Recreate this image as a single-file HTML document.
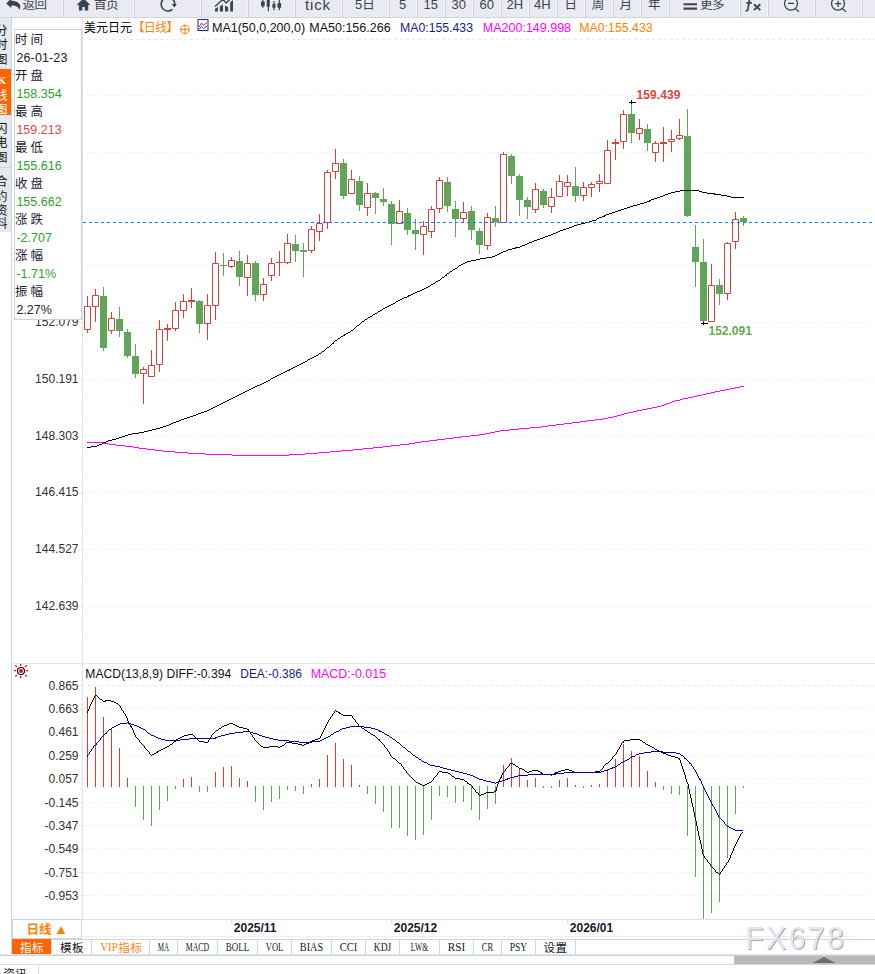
<!DOCTYPE html>
<html><head><meta charset="utf-8"><title>chart</title>
<style>
html,body{margin:0;padding:0;background:#fff}
#root{position:relative;width:875px;height:974px;overflow:hidden;background:#fff;font-family:"Liberation Sans","Noto Sans CJK SC",sans-serif}
svg{position:absolute;left:0;top:0;display:block}
text{font-family:"Liberation Sans","Noto Sans CJK SC",sans-serif}
</style></head>
<body><div id="root">
<svg width="875" height="974" viewBox="0 0 875 974">
<defs><filter id="ws" x="-5%" y="-20%" width="110%" height="140%"><feDropShadow dx="1" dy="1" stdDeviation="0.6" flood-color="#b48c64" flood-opacity="0.8"/></filter></defs>
<line x1="83" x2="875" y1="95.5" y2="95.5" stroke="#e5ecf1" stroke-dasharray="1 2"/>
<line x1="83" x2="875" y1="152.5" y2="152.5" stroke="#e5ecf1" stroke-dasharray="1 2"/>
<line x1="83" x2="875" y1="209.5" y2="209.5" stroke="#e5ecf1" stroke-dasharray="1 2"/>
<line x1="83" x2="875" y1="265.5" y2="265.5" stroke="#e5ecf1" stroke-dasharray="1 2"/>
<line x1="83" x2="875" y1="322.5" y2="322.5" stroke="#e5ecf1" stroke-dasharray="1 2"/>
<line x1="83" x2="875" y1="379.5" y2="379.5" stroke="#e5ecf1" stroke-dasharray="1 2"/>
<line x1="83" x2="875" y1="436.5" y2="436.5" stroke="#e5ecf1" stroke-dasharray="1 2"/>
<line x1="83" x2="875" y1="492.5" y2="492.5" stroke="#e5ecf1" stroke-dasharray="1 2"/>
<line x1="83" x2="875" y1="549.5" y2="549.5" stroke="#e5ecf1" stroke-dasharray="1 2"/>
<line x1="83" x2="875" y1="606.5" y2="606.5" stroke="#e5ecf1" stroke-dasharray="1 2"/>
<line x1="82" x2="875" y1="39.5" y2="39.5" stroke="#e4ecf1" stroke-dasharray="3 3"/>
<line x1="82" x2="875" y1="685.5" y2="685.5" stroke="#e4ecf1" stroke-dasharray="3 3"/>
<line x1="83" x2="875" y1="708.5" y2="708.5" stroke="#e5ecf1" stroke-dasharray="1 2"/>
<line x1="83" x2="875" y1="731.5" y2="731.5" stroke="#e5ecf1" stroke-dasharray="1 2"/>
<line x1="83" x2="875" y1="755.5" y2="755.5" stroke="#e5ecf1" stroke-dasharray="1 2"/>
<line x1="83" x2="875" y1="778.5" y2="778.5" stroke="#e5ecf1" stroke-dasharray="1 2"/>
<line x1="83" x2="875" y1="802.5" y2="802.5" stroke="#e5ecf1" stroke-dasharray="1 2"/>
<line x1="83" x2="875" y1="825.5" y2="825.5" stroke="#e5ecf1" stroke-dasharray="1 2"/>
<line x1="83" x2="875" y1="848.5" y2="848.5" stroke="#e5ecf1" stroke-dasharray="1 2"/>
<line x1="83" x2="875" y1="872.5" y2="872.5" stroke="#e5ecf1" stroke-dasharray="1 2"/>
<line x1="83" x2="875" y1="895.5" y2="895.5" stroke="#e5ecf1" stroke-dasharray="1 2"/>
<line x1="11.5" x2="11.5" y1="18" y2="955" stroke="#ccd5df"/>
<line x1="82.5" x2="82.5" y1="18" y2="919" stroke="#dde4eb"/>
<line x1="12" x2="875" y1="663.5" y2="663.5" stroke="#e3e9f0"/>
<line x1="12" x2="875" y1="919.5" y2="919.5" stroke="#dde3ea"/>
<path d="M81 49.5H82M81 60.5H82M81 72.5H82M81 83.5H82M79 95.5H82M81 106.5H82M81 117.5H82M81 129.5H82M81 140.5H82M79 151.5H82M81 163.5H82M81 174.5H82M81 186.5H82M81 197.5H82M79 208.5H82M81 220.5H82M81 231.5H82M81 242.5H82M81 254.5H82M79 265.5H82M81 277.5H82M81 288.5H82M81 299.5H82M81 311.5H82M79 322.5H82M81 333.5H82M81 345.5H82M81 356.5H82M81 367.5H82M79 379.5H82M81 390.5H82M81 402.5H82M81 413.5H82M81 424.5H82M79 436.5H82M81 447.5H82M81 458.5H82M81 470.5H82M81 481.5H82M79 493.5H82M81 504.5H82M81 515.5H82M81 527.5H82M81 538.5H82M79 549.5H82M81 561.5H82M81 572.5H82M81 584.5H82M81 595.5H82M79 606.5H82M81 618.5H82M81 629.5H82M81 640.5H82M81 652.5H82" stroke="#dde4eb" fill="none"/>
<path d="M79 685.5H82M81 690.5H82M81 695.5H82M81 699.5H82M81 704.5H82M79 709.5H82M81 713.5H82M81 718.5H82M81 723.5H82M81 727.5H82M79 732.5H82M81 737.5H82M81 741.5H82M81 746.5H82M81 751.5H82M79 755.5H82M81 760.5H82M81 765.5H82M81 769.5H82M81 774.5H82M79 779.5H82M81 783.5H82M81 788.5H82M81 793.5H82M81 797.5H82M79 802.5H82M81 807.5H82M81 811.5H82M81 816.5H82M81 821.5H82M79 825.5H82M81 830.5H82M81 835.5H82M81 839.5H82M81 844.5H82M79 849.5H82M81 853.5H82M81 858.5H82M81 863.5H82M81 867.5H82M79 872.5H82M81 877.5H82M81 881.5H82M81 886.5H82M81 891.5H82M79 895.5H82M81 900.5H82M81 905.5H82M81 909.5H82M81 914.5H82" stroke="#dde4eb" fill="none"/>
<path d="M100 296h7v52h-7zM116 319h7v12h-7zM124 332h7v24h-7zM132 356h7v18h-7zM196 301h7v23h-7zM236 261h7v16h-7zM252 263h7v32h-7zM292 244h7v7h-7zM300 250h7v2h-7zM340 163h7v33h-7zM356 181h7v24h-7zM372 193h7v5h-7zM380 199h7v3h-7zM388 204h7v20h-7zM404 213h7v17h-7zM412 230h7v4h-7zM444 182h7v24h-7zM452 209h7v10h-7zM468 211h7v19h-7zM476 231h7v14h-7zM492 218h7v4h-7zM508 156h7v20h-7zM516 176h7v24h-7zM524 200h7v7h-7zM540 191h7v14h-7zM572 186h7v10h-7zM628 114h7v19h-7zM644 129h7v14h-7zM684 136h7v80h-7zM692 247h7v15h-7zM700 262h7v59h-7zM716 285h7v9h-7zM740 218h7v4h-7z" fill="#5fa55a"/>
<path d="M103.5 287V351M119.5 307V337M127.5 329V358M135.5 344V378M199.5 300V333M220 265.5h7M223.5 253V276M239.5 251V286M255.5 261V301M295.5 235V262M303.5 243V277M343.5 159V199M359.5 176V211M375.5 192V214M383.5 188V206M391.5 201V245M407.5 208V235M415.5 219V250M447.5 177V212M455.5 201V237M471.5 206V240M479.5 228V254M495.5 206V227M511.5 154V184M519.5 174V216M527.5 197V219M543.5 189V208M575.5 167V202M631.5 103V143M647.5 124V151M687.5 109V217M695.5 225V287M703.5 239V323M719.5 279V305M743.5 216V226" stroke="#5fa55a" fill="none"/>
<path d="M84.5 306.5h6v23h-6zM92.5 295.5h6v11h-6zM108.5 318.5h6v12h-6zM140.5 369.5h6v4h-6zM148.5 365.5h6v11h-6zM156.5 329.5h6v35h-6zM172.5 310.5h6v18h-6zM180.5 301.5h6v9h-6zM204.5 305.5h6v18h-6zM212.5 263.5h6v42h-6zM228.5 260.5h6v6h-6zM244.5 263.5h6v14h-6zM260.5 284.5h6v10h-6zM268.5 263.5h6v12h-6zM284.5 243.5h6v19h-6zM308.5 229.5h6v21h-6zM316.5 223.5h6v8h-6zM324.5 172.5h6v50h-6zM332.5 163.5h6v8h-6zM348.5 179.5h6v14h-6zM364.5 193.5h6v14h-6zM396.5 211.5h6v12h-6zM420.5 226.5h6v8h-6zM428.5 209.5h6v22h-6zM436.5 180.5h6v28h-6zM460.5 212.5h6v6h-6zM484.5 217.5h6v28h-6zM500.5 154.5h6v68h-6zM532.5 189.5h6v20h-6zM548.5 197.5h6v9h-6zM556.5 181.5h6v15h-6zM564.5 182.5h6v4h-6zM580.5 187.5h6v8h-6zM588.5 184.5h6v3h-6zM596.5 181.5h6v2h-6zM604.5 150.5h6v33h-6zM620.5 114.5h6v27h-6zM636.5 128.5h6v5h-6zM652.5 143.5h6v9h-6zM668.5 139.5h6v2h-6zM676.5 135.5h6v3h-6zM708.5 285.5h6v36h-6zM724.5 243.5h6v50h-6zM732.5 219.5h6v22h-6z" fill="#fff" stroke="#d6403b"/>
<path d="M87.5 296V306M87.5 330V333M95.5 289V295M95.5 307V322M111.5 312V318M111.5 331V334M143.5 367V369M143.5 374V404M151.5 350V365M159.5 320V329M159.5 365V372M167.5 324V328M167.5 330V341M175.5 302V310M175.5 329V331M183.5 294V301M183.5 311V318M191.5 288V300M191.5 302V308M207.5 294V305M207.5 324V340M215.5 252V263M215.5 306V320M231.5 257V260M231.5 267V268M247.5 255V263M247.5 278V296M263.5 278V284M263.5 295V301M271.5 258V263M271.5 276V281M279.5 251V262M279.5 263V276M287.5 234V243M287.5 263V264M311.5 226V229M311.5 251V253M319.5 214V223M319.5 232V241M327.5 170V172M327.5 223V229M335.5 149V163M335.5 172V179M351.5 170V179M367.5 183V193M367.5 208V216M399.5 200V211M423.5 221V226M423.5 235V255M431.5 206V209M431.5 232V238M439.5 177V180M439.5 209V213M463.5 202V212M463.5 219V222M487.5 213V217M487.5 246V250M503.5 152V154M535.5 183V189M535.5 210V213M551.5 188V197M551.5 207V213M559.5 175V181M567.5 175V182M567.5 187V196M583.5 182V187M583.5 196V201M591.5 182V184M591.5 188V197M599.5 174V181M599.5 184V192M607.5 140V150M615.5 139V142M615.5 144V160M623.5 110V114M623.5 142V149M639.5 119V128M639.5 134V140M655.5 141V143M655.5 153V162M663.5 127V142M663.5 144V162M671.5 130V139M671.5 142V152M679.5 119V135M679.5 139V140M711.5 264V285M727.5 242V243M727.5 294V300M735.5 212V219M735.5 242V249" stroke="#d6403b" fill="none"/>
<path d="M164 328h7v2h-7zM188 300h7v2h-7zM276 262h7v1h-7zM612 142h7v2h-7zM660 142h7v2h-7z" fill="#d6403b"/>
<path d="M680 190.5h19M675 191.5h5M699 191.5h3M671 192.5h4M702 192.5h5M668 193.5h3M707 193.5h8M665 194.5h3M714 194.5h7M663 195.5h2M721 195.5h6M660 196.5h3M727 196.5h4M657 197.5h3M731 197.5h13M654 198.5h3M651 199.5h3M649 200.5h2M647 201.5h3M644 202.5h3M640 203.5h4M637 204.5h3M633 205.5h4M630 206.5h3M627 207.5h3M624 208.5h3M621 209.5h3M618 210.5h3M615 211.5h3M612 212.5h3M609 213.5h3M606 214.5h3M604 215.5h2M602 216.5h3M599 217.5h3M597 218.5h2M596 219.5h1M592 220.5h4M589 221.5h3M585 222.5h4M581 223.5h4M577 224.5h4M574 225.5h3M572 226.5h2M569 227.5h3M566 228.5h3M563 229.5h3M560 230.5h3M558 231.5h2M556 232.5h2M553 233.5h3M551 234.5h2M548 235.5h3M545 236.5h3M543 237.5h2M540 238.5h3M537 239.5h3M534 240.5h3M532 241.5h2M529 242.5h3M527 243.5h2M525 244.5h2M522 245.5h3M520 246.5h2M515 247.5h5M512 248.5h4M508 249.5h4M506 250.5h2M503 251.5h3M501 252.5h2M499 253.5h2M497 254.5h2M495 255.5h2M492 256.5h3M486 257.5h6M480 258.5h6M476 259.5h4M471 260.5h5M467 261.5h4M465 262.5h2M463 263.5h2M461 264.5h2M459 265.5h2M458 266.5h1M457 267.5h1M455 268.5h2M453 269.5h2M452 270.5h1M450 271.5h2M449 272.5h1M447 273.5h2M446 274.5h1M445 275.5h2M444 276.5h1M442 277.5h2M441 278.5h1M440 279.5h1M438 280.5h2M436 281.5h2M435 282.5h1M433 283.5h2M431 284.5h2M430 285.5h1M428 286.5h2M426 287.5h2M424 288.5h2M422 289.5h2M420 290.5h2M417 291.5h3M415 292.5h2M413 293.5h2M411 294.5h2M408 295.5h3M407 296.5h2M404 297.5h3M402 298.5h2M400 299.5h2M398 300.5h2M396 301.5h2M395 302.5h1M393 303.5h2M391 304.5h2M389 305.5h2M387 306.5h2M385 307.5h2M383 308.5h2M382 309.5h1M380 310.5h2M378 311.5h2M377 312.5h1M375 313.5h2M373 314.5h2M372 315.5h1M370 316.5h2M368 317.5h2M367 318.5h1M365 319.5h2M364 320.5h1M362 321.5h2M361 322.5h1M360 323.5h1M359 324.5h1M357 325.5h2M356 326.5h1M355 327.5h1M354 328.5h1M353 329.5h1M351 330.5h2M350 331.5h1M348 332.5h2M346 333.5h2M344 334.5h2M343 335.5h2M341 336.5h2M340 337.5h1M338 338.5h2M337 339.5h1M335 340.5h2M334 341.5h1M333 342.5h1M332 343.5h2M331 344.5h1M330 345.5h1M329 346.5h1M327 347.5h2M326 348.5h1M325 349.5h1M324 350.5h1M322 351.5h2M321 352.5h1M319 353.5h2M318 354.5h1M316 355.5h2M314 356.5h2M312 357.5h2M310 358.5h2M308 359.5h2M307 360.5h1M305 361.5h2M303 362.5h2M301 363.5h2M299 364.5h2M297 365.5h2M295 366.5h2M293 367.5h2M291 368.5h2M289 369.5h2M287 370.5h3M285 371.5h2M283 372.5h2M281 373.5h2M279 374.5h2M277 375.5h2M275 376.5h2M273 377.5h2M271 378.5h2M270 379.5h1M268 380.5h2M266 381.5h2M264 382.5h2M262 383.5h2M260 384.5h2M257 385.5h3M255 386.5h2M253 387.5h2M251 388.5h2M249 389.5h2M247 390.5h2M245 391.5h2M243 392.5h2M241 393.5h2M239 394.5h2M237 395.5h2M235 396.5h2M233 397.5h2M231 398.5h2M229 399.5h2M227 400.5h2M225 401.5h2M223 402.5h2M221 403.5h2M219 404.5h2M217 405.5h2M215 406.5h2M213 407.5h2M211 408.5h2M209 409.5h2M207 410.5h2M204 411.5h3M201 412.5h3M198 413.5h3M196 414.5h2M193 415.5h3M190 416.5h3M187 417.5h3M184 418.5h3M181 419.5h3M179 420.5h2M176 421.5h3M173 422.5h3M171 423.5h2M169 424.5h2M166 425.5h3M163 426.5h3M160 427.5h3M156 428.5h4M152 429.5h4M148 430.5h4M144 431.5h4M139 432.5h5M132 433.5h7M128 434.5h4M125 435.5h3M122 436.5h3M119 437.5h3M116 438.5h3M112 439.5h4M108 440.5h4M106 441.5h2M103 442.5h3M102 443.5h1M99 444.5h3M97 445.5h2M91 446.5h6M87 447.5h4" stroke="#000" fill="none" shape-rendering="crispEdges"/>
<path d="M740 386.5h4M735 387.5h5M730 388.5h5M725 389.5h5M720 390.5h5M715 391.5h5M711 392.5h4M706 393.5h5M702 394.5h4M697 395.5h5M693 396.5h4M688 397.5h5M683 398.5h5M680 399.5h3M675 400.5h5M672 401.5h3M670 402.5h2M667 403.5h3M664 404.5h3M661 405.5h3M657 406.5h4M652 407.5h5M647 408.5h5M642 409.5h5M637 410.5h5M633 411.5h4M628 412.5h5M624 413.5h4M621 414.5h3M617 415.5h4M613 416.5h4M608 417.5h5M603 418.5h5M595 419.5h8M587 420.5h8M580 421.5h7M572 422.5h8M564 423.5h8M556 424.5h8M548 425.5h8M541 426.5h7M530 427.5h11M519 428.5h11M509 429.5h10M500 430.5h9M495 431.5h5M490 432.5h5M485 433.5h5M479 434.5h6M470 435.5h9M461 436.5h9M453 437.5h8M445 438.5h8M437 439.5h8M429 440.5h8M421 441.5h8M87 442.5h16M415 442.5h6M103 443.5h6M409 443.5h6M109 444.5h7M400 444.5h9M116 445.5h9M391 445.5h9M125 446.5h8M383 446.5h8M133 447.5h6M373 447.5h10M139 448.5h8M363 448.5h10M147 449.5h8M353 449.5h10M155 450.5h8M341 450.5h12M163 451.5h12M330 451.5h11M175 452.5h13M318 452.5h12M188 453.5h17M305 453.5h13M205 454.5h27M289 454.5h16M232 455.5h57" stroke="#ff00ff" fill="none" shape-rendering="crispEdges"/>
<line x1="83" x2="875" y1="222.5" y2="222.5" stroke="#0a7eff" stroke-dasharray="3 3"/>
<path d="M629 102.5h7M631.5 100v4M701 323.5h7M703.5 321.5v3.5" stroke="#000" fill="none"/>
<path d="M87.5 697V787M95.5 687V787M103.5 717V787M111.5 728V787M119.5 748V787M127.5 778V787M183.5 779V787M191.5 777V787M215.5 772V787M223.5 767V787M231.5 766V787M239.5 778V787M247.5 781V787M311.5 784V787M319.5 779V787M327.5 755V787M335.5 743V787M343.5 759V787M351.5 765V787M359.5 785V787M503.5 765V787M511.5 758V787M519.5 769V787M527.5 780V787M535.5 778V787M559.5 780V787M567.5 778V787M575.5 785V787M591.5 785V787M599.5 784V787M607.5 769V787M615.5 759V787M623.5 744V787M631.5 751V787M639.5 756V787M647.5 771V787M655.5 782V787" stroke="#d6403b" fill="none"/>
<path d="M135.5 786V807M143.5 786V820M151.5 786V826M159.5 786V810M167.5 786V801M175.5 786V789M199.5 786V792M207.5 786V792M255.5 786V802M263.5 786V810M271.5 786V802M279.5 786V799M287.5 786V790M295.5 786V791M303.5 786V794M367.5 786V794M375.5 786V804M383.5 786V812M391.5 786V828M399.5 786V828M407.5 786V836M415.5 786V840M423.5 786V835M431.5 786V820M439.5 786V796M447.5 786V797M455.5 786V803M463.5 786V802M471.5 786V810M479.5 786V820M487.5 786V809M495.5 786V804M543.5 786V788M551.5 786V788M583.5 786V788M663.5 786V790M671.5 786V794M679.5 786V795M687.5 786V836M695.5 786V877M703.5 786V919M711.5 786V913M719.5 786V902M727.5 786V858M735.5 786V814M743.5 786V788" stroke="#5fa55a" fill="none"/>
<path d="M95 695.5h2M94 696.5h1M97 696.5h1M94 697.5h1M98 697.5h1M93 698.5h1M99 698.5h1M93 699.5h1M100 699.5h2M92 700.5h1M102 700.5h1M105 700.5h6M92 701.5h1M103 701.5h3M111 701.5h3M91 702.5h1M114 702.5h2M91 703.5h1M116 703.5h2M90 704.5h1M118 704.5h1M90 705.5h1M119 705.5h1M89 706.5h1M120 706.5h1M89 707.5h1M120 707.5h1M89 708.5h1M121 708.5h1M88 709.5h1M121 709.5h1M88 710.5h1M122 710.5h1M335 710.5h1M87 711.5h1M123 711.5h1M334 711.5h1M336 711.5h2M87 712.5h1M123 712.5h1M334 712.5h1M338 712.5h2M124 713.5h1M333 713.5h1M339 713.5h2M125 714.5h1M332 714.5h1M341 714.5h2M125 715.5h1M332 715.5h1M343 715.5h9M126 716.5h1M331 716.5h1M352 716.5h1M126 717.5h1M330 717.5h1M352 717.5h1M127 718.5h1M330 718.5h1M353 718.5h1M127 719.5h1M329 719.5h1M354 719.5h1M127 720.5h1M328 720.5h1M355 720.5h1M128 721.5h1M328 721.5h1M355 721.5h1M128 722.5h1M327 722.5h1M356 722.5h1M129 723.5h1M229 723.5h4M327 723.5h1M357 723.5h1M129 724.5h1M227 724.5h2M233 724.5h2M326 724.5h1M358 724.5h1M130 725.5h1M224 725.5h3M235 725.5h2M326 725.5h1M358 725.5h1M130 726.5h2M222 726.5h2M237 726.5h2M325 726.5h1M359 726.5h2M131 727.5h1M221 727.5h1M239 727.5h4M325 727.5h1M361 727.5h1M132 728.5h1M219 728.5h2M243 728.5h4M324 728.5h1M362 728.5h2M132 729.5h1M218 729.5h1M247 729.5h2M324 729.5h1M364 729.5h1M133 730.5h1M216 730.5h2M248 730.5h1M323 730.5h1M365 730.5h2M133 731.5h1M215 731.5h1M249 731.5h1M323 731.5h1M367 731.5h1M133 732.5h1M214 732.5h1M250 732.5h1M322 732.5h1M368 732.5h2M134 733.5h1M213 733.5h1M250 733.5h1M322 733.5h1M370 733.5h1M134 734.5h1M188 734.5h5M212 734.5h1M251 734.5h1M321 734.5h1M371 734.5h2M135 735.5h1M184 735.5h4M193 735.5h1M211 735.5h1M252 735.5h1M321 735.5h1M373 735.5h2M135 736.5h1M182 736.5h2M194 736.5h1M211 736.5h1M252 736.5h1M320 736.5h1M375 736.5h1M136 737.5h1M180 737.5h2M195 737.5h1M210 737.5h1M253 737.5h1M320 737.5h1M376 737.5h1M137 738.5h1M178 738.5h2M195 738.5h2M209 738.5h1M254 738.5h1M318 738.5h2M377 738.5h1M138 739.5h1M176 739.5h2M197 739.5h1M209 739.5h1M254 739.5h1M315 739.5h3M378 739.5h2M630 739.5h10M139 740.5h1M176 740.5h1M198 740.5h1M208 740.5h1M255 740.5h1M312 740.5h3M379 740.5h1M624 740.5h6M640 740.5h2M139 741.5h1M174 741.5h2M199 741.5h5M208 741.5h1M256 741.5h1M310 741.5h2M380 741.5h1M623 741.5h1M642 741.5h1M140 742.5h1M173 742.5h1M204 742.5h4M257 742.5h1M286 742.5h6M308 742.5h2M381 742.5h1M622 742.5h2M643 742.5h2M141 743.5h1M172 743.5h1M258 743.5h1M285 743.5h1M292 743.5h6M306 743.5h3M382 743.5h1M621 743.5h1M645 743.5h1M142 744.5h1M170 744.5h2M259 744.5h1M284 744.5h1M298 744.5h4M304 744.5h2M383 744.5h1M621 744.5h1M646 744.5h2M143 745.5h1M169 745.5h1M260 745.5h1M282 745.5h2M302 745.5h2M384 745.5h1M620 745.5h1M648 745.5h2M144 746.5h1M167 746.5h2M261 746.5h2M269 746.5h9M280 746.5h2M384 746.5h1M620 746.5h1M650 746.5h2M144 747.5h1M165 747.5h2M263 747.5h6M278 747.5h2M385 747.5h1M619 747.5h1M652 747.5h2M145 748.5h1M163 748.5h2M386 748.5h1M619 748.5h1M654 748.5h1M146 749.5h1M161 749.5h2M387 749.5h1M618 749.5h1M655 749.5h2M147 750.5h1M159 750.5h2M387 750.5h1M617 750.5h1M657 750.5h2M148 751.5h1M157 751.5h2M388 751.5h1M617 751.5h1M659 751.5h2M149 752.5h1M156 752.5h2M389 752.5h1M616 752.5h1M661 752.5h2M149 753.5h1M154 753.5h2M389 753.5h1M616 753.5h1M663 753.5h3M150 754.5h1M152 754.5h2M390 754.5h1M615 754.5h1M666 754.5h2M151 755.5h1M390 755.5h1M614 755.5h1M668 755.5h3M391 756.5h1M613 756.5h1M671 756.5h4M392 757.5h1M612 757.5h1M675 757.5h3M393 758.5h2M612 758.5h1M678 758.5h2M395 759.5h1M611 759.5h1M679 759.5h1M396 760.5h1M610 760.5h1M680 760.5h1M397 761.5h1M609 761.5h1M680 761.5h1M398 762.5h1M608 762.5h1M680 762.5h1M399 763.5h2M510 763.5h3M606 763.5h2M681 763.5h1M401 764.5h1M509 764.5h1M513 764.5h2M605 764.5h1M681 764.5h1M401 765.5h1M509 765.5h1M515 765.5h1M604 765.5h1M681 765.5h1M402 766.5h1M508 766.5h1M516 766.5h2M603 766.5h1M682 766.5h1M403 767.5h1M507 767.5h1M518 767.5h1M603 767.5h1M682 767.5h1M403 768.5h1M506 768.5h1M519 768.5h3M602 768.5h1M682 768.5h1M404 769.5h1M505 769.5h1M522 769.5h2M565 769.5h4M601 769.5h1M683 769.5h1M405 770.5h1M505 770.5h1M524 770.5h1M532 770.5h6M561 770.5h4M569 770.5h3M600 770.5h1M683 770.5h1M406 771.5h1M439 771.5h3M504 771.5h1M525 771.5h2M529 771.5h3M538 771.5h2M558 771.5h3M572 771.5h2M595 771.5h5M683 771.5h1M406 772.5h1M438 772.5h1M442 772.5h6M503 772.5h1M527 772.5h2M540 772.5h2M555 772.5h3M574 772.5h21M684 772.5h1M407 773.5h1M437 773.5h1M448 773.5h2M502 773.5h1M541 773.5h2M554 773.5h2M684 773.5h1M408 774.5h1M437 774.5h1M450 774.5h1M502 774.5h1M543 774.5h8M552 774.5h2M684 774.5h1M409 775.5h1M436 775.5h1M451 775.5h1M501 775.5h1M551 775.5h1M685 775.5h1M410 776.5h1M435 776.5h1M452 776.5h2M501 776.5h1M685 776.5h1M411 777.5h1M434 777.5h1M454 777.5h1M500 777.5h2M685 777.5h1M412 778.5h1M433 778.5h1M455 778.5h5M500 778.5h1M685 778.5h1M413 779.5h1M433 779.5h1M460 779.5h4M499 779.5h1M686 779.5h1M414 780.5h1M432 780.5h1M464 780.5h1M499 780.5h1M686 780.5h1M415 781.5h1M431 781.5h1M465 781.5h2M498 781.5h1M686 781.5h1M416 782.5h2M429 782.5h2M467 782.5h1M498 782.5h1M687 782.5h1M418 783.5h2M427 783.5h2M467 783.5h2M498 783.5h1M687 783.5h1M420 784.5h2M425 784.5h2M469 784.5h2M497 784.5h1M688 784.5h1M422 785.5h3M471 785.5h1M497 785.5h1M688 785.5h1M472 786.5h1M497 786.5h1M688 786.5h1M472 787.5h1M496 787.5h1M688 787.5h1M473 788.5h1M496 788.5h1M688 788.5h1M474 789.5h1M496 789.5h1M689 789.5h1M475 790.5h1M495 790.5h2M689 790.5h1M475 791.5h1M494 791.5h2M689 791.5h1M476 792.5h2M486 792.5h8M689 792.5h1M478 793.5h1M484 793.5h2M689 793.5h1M478 794.5h1M481 794.5h3M690 794.5h1M479 795.5h2M690 795.5h1M690 796.5h1M690 797.5h1M691 798.5h1M691 799.5h1M691 800.5h1M691 801.5h1M691 802.5h1M692 803.5h1M692 804.5h1M692 805.5h1M692 806.5h1M693 807.5h1M693 808.5h1M693 809.5h1M693 810.5h1M693 811.5h1M694 812.5h1M694 813.5h1M694 814.5h1M694 815.5h1M694 816.5h1M695 817.5h1M695 818.5h1M695 819.5h1M695 820.5h1M696 821.5h1M696 822.5h1M696 823.5h1M696 824.5h1M696 825.5h1M697 826.5h1M697 827.5h1M697 828.5h1M697 829.5h1M697 830.5h1M698 831.5h1M698 832.5h1M742 832.5h1M698 833.5h1M741 833.5h1M698 834.5h1M740 834.5h1M698 835.5h1M740 835.5h1M699 836.5h1M739 836.5h1M699 837.5h1M739 837.5h1M699 838.5h1M738 838.5h1M699 839.5h1M738 839.5h1M700 840.5h1M737 840.5h1M700 841.5h1M737 841.5h1M700 842.5h1M736 842.5h1M700 843.5h1M736 843.5h1M701 844.5h1M735 844.5h1M701 845.5h1M735 845.5h1M701 846.5h1M734 846.5h1M701 847.5h1M734 847.5h1M701 848.5h1M733 848.5h1M702 849.5h1M733 849.5h1M702 850.5h1M733 850.5h1M702 851.5h1M732 851.5h1M702 852.5h1M732 852.5h1M702 853.5h1M731 853.5h1M703 854.5h1M731 854.5h1M703 855.5h1M730 855.5h1M704 856.5h1M730 856.5h1M704 857.5h1M730 857.5h1M705 858.5h1M729 858.5h1M706 859.5h1M729 859.5h1M707 860.5h1M728 860.5h1M707 861.5h1M728 861.5h1M708 862.5h1M727 862.5h1M709 863.5h1M726 863.5h1M710 864.5h1M726 864.5h1M710 865.5h1M725 865.5h1M711 866.5h1M724 866.5h1M712 867.5h1M724 867.5h1M713 868.5h1M723 868.5h1M714 869.5h1M722 869.5h1M715 870.5h1M722 870.5h1M715 871.5h1M721 871.5h1M716 872.5h2M720 872.5h1M718 873.5h1M720 873.5h1M719 874.5h1" stroke="#000" fill="none" shape-rendering="crispEdges"/>
<path d="M127 722.5h1M120 723.5h7M128 723.5h3M118 724.5h2M131 724.5h3M116 725.5h2M134 725.5h3M114 726.5h2M137 726.5h2M350 726.5h14M112 727.5h2M139 727.5h2M346 727.5h4M364 727.5h7M111 728.5h1M141 728.5h2M342 728.5h4M371 728.5h4M109 729.5h2M143 729.5h2M340 729.5h2M375 729.5h3M108 730.5h1M145 730.5h1M339 730.5h1M378 730.5h2M107 731.5h1M146 731.5h1M243 731.5h7M336 731.5h3M379 731.5h3M106 732.5h1M147 732.5h1M235 732.5h8M250 732.5h3M334 732.5h2M382 732.5h2M105 733.5h2M148 733.5h2M229 733.5h6M253 733.5h4M333 733.5h1M384 733.5h1M104 734.5h1M150 734.5h1M225 734.5h4M257 734.5h2M331 734.5h2M385 734.5h2M103 735.5h1M151 735.5h3M221 735.5h4M259 735.5h3M330 735.5h1M387 735.5h2M102 736.5h1M154 736.5h2M218 736.5h3M262 736.5h3M328 736.5h2M389 736.5h1M101 737.5h1M156 737.5h2M215 737.5h3M265 737.5h4M326 737.5h2M390 737.5h2M100 738.5h1M158 738.5h3M189 738.5h27M269 738.5h4M324 738.5h2M392 738.5h1M100 739.5h1M161 739.5h4M180 739.5h9M273 739.5h5M322 739.5h2M393 739.5h2M99 740.5h1M165 740.5h15M278 740.5h11M320 740.5h2M395 740.5h1M98 741.5h1M289 741.5h10M312 741.5h8M396 741.5h1M97 742.5h1M299 742.5h13M397 742.5h2M96 743.5h1M399 743.5h1M96 744.5h1M400 744.5h1M94 745.5h2M401 745.5h1M93 746.5h1M402 746.5h1M93 747.5h1M403 747.5h2M92 748.5h1M405 748.5h1M91 749.5h1M406 749.5h1M91 750.5h1M407 750.5h1M90 751.5h1M408 751.5h2M651 751.5h12M89 752.5h1M410 752.5h1M644 752.5h7M663 752.5h13M89 753.5h1M411 753.5h1M639 753.5h5M676 753.5h4M88 754.5h1M412 754.5h1M636 754.5h3M680 754.5h1M87 755.5h1M413 755.5h2M635 755.5h1M681 755.5h2M87 756.5h1M415 756.5h1M632 756.5h3M683 756.5h1M416 757.5h2M630 757.5h2M684 757.5h1M418 758.5h1M629 758.5h1M684 758.5h2M419 759.5h2M627 759.5h2M686 759.5h1M421 760.5h1M625 760.5h2M687 760.5h1M422 761.5h2M623 761.5h2M688 761.5h1M424 762.5h3M621 762.5h2M689 762.5h1M427 763.5h1M620 763.5h1M689 763.5h2M428 764.5h2M618 764.5h2M691 764.5h1M430 765.5h5M617 765.5h1M691 765.5h1M435 766.5h5M615 766.5h2M692 766.5h1M440 767.5h3M612 767.5h3M693 767.5h1M443 768.5h4M610 768.5h3M693 768.5h1M447 769.5h4M608 769.5h2M694 769.5h1M451 770.5h4M604 770.5h4M695 770.5h1M455 771.5h4M601 771.5h3M695 771.5h1M459 772.5h4M564 772.5h37M696 772.5h1M463 773.5h4M555 773.5h9M696 773.5h1M467 774.5h3M528 774.5h28M697 774.5h1M470 775.5h3M518 775.5h10M697 775.5h1M473 776.5h2M514 776.5h4M698 776.5h1M475 777.5h2M510 777.5h4M698 777.5h1M477 778.5h2M507 778.5h3M699 778.5h1M479 779.5h4M505 779.5h3M699 779.5h2M483 780.5h3M502 780.5h3M700 780.5h1M486 781.5h5M499 781.5h3M701 781.5h1M491 782.5h4M496 782.5h3M701 782.5h1M495 783.5h1M701 783.5h1M702 784.5h1M702 785.5h1M703 786.5h1M703 787.5h1M704 788.5h1M704 789.5h1M705 790.5h1M705 791.5h1M706 792.5h1M706 793.5h1M707 794.5h1M707 795.5h1M708 796.5h1M708 797.5h1M709 798.5h1M709 799.5h1M710 800.5h1M710 801.5h1M711 802.5h1M711 803.5h1M712 804.5h1M712 805.5h1M713 806.5h1M714 807.5h1M714 808.5h1M715 809.5h1M715 810.5h1M716 811.5h1M716 812.5h1M717 813.5h1M717 814.5h1M718 815.5h1M718 816.5h1M719 817.5h1M720 818.5h1M721 819.5h1M722 820.5h1M723 821.5h1M724 822.5h1M724 823.5h1M725 824.5h1M726 825.5h1M727 826.5h2M729 827.5h2M731 828.5h2M733 829.5h2M735 830.5h8" stroke="#0000a0" fill="none" shape-rendering="crispEdges"/>
<text x="78.5" y="326.1" font-size="12" fill="#333" text-anchor="end" font-weight="normal"  textLength="43.39" lengthAdjust="spacingAndGlyphs">152.079</text>
<text x="78.5" y="383.1" font-size="12" fill="#333" text-anchor="end" font-weight="normal"  textLength="43.39" lengthAdjust="spacingAndGlyphs">150.191</text>
<text x="78.5" y="440.1" font-size="12" fill="#333" text-anchor="end" font-weight="normal"  textLength="43.39" lengthAdjust="spacingAndGlyphs">148.303</text>
<text x="78.5" y="496.1" font-size="12" fill="#333" text-anchor="end" font-weight="normal"  textLength="43.39" lengthAdjust="spacingAndGlyphs">146.415</text>
<text x="78.5" y="553.1" font-size="12" fill="#333" text-anchor="end" font-weight="normal"  textLength="43.39" lengthAdjust="spacingAndGlyphs">144.527</text>
<text x="78.5" y="610.1" font-size="12" fill="#333" text-anchor="end" font-weight="normal"  textLength="43.39" lengthAdjust="spacingAndGlyphs">142.639</text>
<text x="78.5" y="689.7" font-size="12" fill="#333" text-anchor="end" font-weight="normal"  textLength="30.03" lengthAdjust="spacingAndGlyphs">0.865</text>
<text x="78.5" y="712.7" font-size="12" fill="#333" text-anchor="end" font-weight="normal"  textLength="30.03" lengthAdjust="spacingAndGlyphs">0.663</text>
<text x="78.5" y="735.7" font-size="12" fill="#333" text-anchor="end" font-weight="normal"  textLength="30.03" lengthAdjust="spacingAndGlyphs">0.461</text>
<text x="78.5" y="759.7" font-size="12" fill="#333" text-anchor="end" font-weight="normal"  textLength="30.03" lengthAdjust="spacingAndGlyphs">0.259</text>
<text x="78.5" y="782.7" font-size="12" fill="#333" text-anchor="end" font-weight="normal"  textLength="30.03" lengthAdjust="spacingAndGlyphs">0.057</text>
<text x="78.5" y="806.7" font-size="12" fill="#333" text-anchor="end" font-weight="normal"  textLength="34.03" lengthAdjust="spacingAndGlyphs">-0.145</text>
<text x="78.5" y="829.7" font-size="12" fill="#333" text-anchor="end" font-weight="normal"  textLength="34.03" lengthAdjust="spacingAndGlyphs">-0.347</text>
<text x="78.5" y="852.7" font-size="12" fill="#333" text-anchor="end" font-weight="normal"  textLength="34.03" lengthAdjust="spacingAndGlyphs">-0.549</text>
<text x="78.5" y="876.7" font-size="12" fill="#333" text-anchor="end" font-weight="normal"  textLength="34.03" lengthAdjust="spacingAndGlyphs">-0.751</text>
<text x="78.5" y="899.7" font-size="12" fill="#333" text-anchor="end" font-weight="normal"  textLength="34.03" lengthAdjust="spacingAndGlyphs">-0.953</text>
<text x="636.5" y="99.3" font-size="12" fill="#de473a" text-anchor="start" font-weight="bold" textLength="43.86" lengthAdjust="spacing">159.439</text>
<text x="708.5" y="335.3" font-size="12" fill="#6aa84f" text-anchor="start" font-weight="bold"  textLength="43.39" lengthAdjust="spacingAndGlyphs">152.091</text>
<line x1="231.5" x2="231.5" y1="920" y2="924" stroke="#dde4eb"/>
<text x="233.8" y="932" font-size="12" fill="#151a30" text-anchor="start" font-weight="bold"  textLength="42.72" lengthAdjust="spacingAndGlyphs">2025/11</text>
<line x1="391.5" x2="391.5" y1="920" y2="924" stroke="#dde4eb"/>
<text x="393.8" y="932" font-size="12" fill="#151a30" text-anchor="start" font-weight="bold"  textLength="43.39" lengthAdjust="spacingAndGlyphs">2025/12</text>
<line x1="567.5" x2="567.5" y1="920" y2="924" stroke="#dde4eb"/>
<text x="569.8" y="932" font-size="12" fill="#151a30" text-anchor="start" font-weight="bold"  textLength="43.39" lengthAdjust="spacingAndGlyphs">2026/01</text>
<text x="84" y="32" font-size="12" fill="#000" text-anchor="start">美元日元</text>
<text x="132.5" y="32" font-size="12" fill="#ff7f00" text-anchor="start" textLength="46" lengthAdjust="spacing">【日线】</text>
<g stroke="#ff7f00" fill="none"><circle cx="184.9" cy="29.4" r="4.3"/><path d="M180.6 29.4h8.6M184.9 25.1v8.6"/></g>
<g><rect x="198" y="19.5" width="10" height="11" fill="#fff" stroke="#2020a0"/><path d="M199 27l2.5-4 2 2.5 3.5-3" stroke="#e02020" fill="none"/><path d="M199 29.5l2.5-3 2 2 3.5-2.5" stroke="#2040d0" fill="none"/></g>
<text x="212" y="31.6" font-size="12.5" fill="#111" text-anchor="start" font-weight="normal"  textLength="93.11" lengthAdjust="spacingAndGlyphs">MA1(50,0,200,0)</text>
<text x="309.3" y="31.6" font-size="12.5" fill="#111" text-anchor="start" font-weight="normal"  textLength="81.31" lengthAdjust="spacingAndGlyphs">MA50:156.266</text>
<text x="400" y="31.6" font-size="12.5" fill="#1a1a8c" text-anchor="start" font-weight="normal" textLength="73" lengthAdjust="spacingAndGlyphs">MA0:155.433</text>
<text x="482.8" y="31.6" font-size="12.5" fill="#ff00ff" text-anchor="start" font-weight="normal"  textLength="88.27" lengthAdjust="spacingAndGlyphs">MA200:149.998</text>
<text x="579.3" y="31.6" font-size="12.5" fill="#ff7f00" text-anchor="start" font-weight="normal" textLength="73.4" lengthAdjust="spacingAndGlyphs">MA0:155.433</text>
<text x="85.3" y="678.2" font-size="12.5" fill="#111" text-anchor="start" font-weight="normal" textLength="146" lengthAdjust="spacingAndGlyphs">MACD(13,8,9) DIFF:-0.394</text>
<text x="240.3" y="678.2" font-size="12.5" fill="#1a1a8c" text-anchor="start" font-weight="normal" textLength="61.6" lengthAdjust="spacingAndGlyphs">DEA:-0.386</text>
<text x="310.7" y="678.2" font-size="12.5" fill="#ff00ff" text-anchor="start" font-weight="normal" textLength="75.4" lengthAdjust="spacingAndGlyphs">MACD:-0.015</text>
<circle cx="21" cy="671" r="3.5" stroke="#000" fill="#fff" stroke-width="1.1"/><circle cx="21" cy="671" r="2" fill="#f00"/><path d="M20.6 664v2M20.6 676v2M14 670.6h2.1M26 670.6h2.1M15.2 665.3l1.7 1.7M26.8 665.3l-1.7 1.7M15.2 676.7l1.7-1.7M26.8 676.7l-1.7-1.7" stroke="#f00" stroke-width="1.2" fill="none"/>
<rect x="14.5" y="29.5" width="67" height="290" fill="#fff" stroke="#c9d3e0"/>
<text x="15" y="43.5" font-size="12.5" fill="#1c2233" text-anchor="start" textLength="28" lengthAdjust="spacing">时 间</text>
<text x="16.4" y="62" font-size="12.5" fill="#222" text-anchor="start" font-weight="normal" textLength="51" lengthAdjust="spacing">26-01-23</text>
<text x="15" y="79.5" font-size="12.5" fill="#1c2233" text-anchor="start" textLength="28" lengthAdjust="spacing">开 盘</text>
<text x="16.4" y="98" font-size="12.5" fill="#2aa52a" text-anchor="start" font-weight="normal"  textLength="45.19" lengthAdjust="spacingAndGlyphs">158.354</text>
<text x="15" y="115.5" font-size="12.5" fill="#1c2233" text-anchor="start" textLength="28" lengthAdjust="spacing">最 高</text>
<text x="16.4" y="134" font-size="12.5" fill="#e0434f" text-anchor="start" font-weight="normal"  textLength="45.19" lengthAdjust="spacingAndGlyphs">159.213</text>
<text x="15" y="151.5" font-size="12.5" fill="#1c2233" text-anchor="start" textLength="28" lengthAdjust="spacing">最 低</text>
<text x="16.4" y="170" font-size="12.5" fill="#2aa52a" text-anchor="start" font-weight="normal"  textLength="45.19" lengthAdjust="spacingAndGlyphs">155.616</text>
<text x="15" y="187.5" font-size="12.5" fill="#1c2233" text-anchor="start" textLength="28" lengthAdjust="spacing">收 盘</text>
<text x="16.4" y="206" font-size="12.5" fill="#2aa52a" text-anchor="start" font-weight="normal"  textLength="45.19" lengthAdjust="spacingAndGlyphs">155.662</text>
<text x="15" y="223.5" font-size="12.5" fill="#1c2233" text-anchor="start" textLength="28" lengthAdjust="spacing">涨 跌</text>
<text x="16.4" y="242" font-size="12.5" fill="#2aa52a" text-anchor="start" font-weight="normal"  textLength="35.45" lengthAdjust="spacingAndGlyphs">-2.707</text>
<text x="15" y="259.5" font-size="12.5" fill="#1c2233" text-anchor="start" textLength="28" lengthAdjust="spacing">涨 幅</text>
<text x="16.4" y="278" font-size="12.5" fill="#2aa52a" text-anchor="start" font-weight="normal"  textLength="39.61" lengthAdjust="spacingAndGlyphs">-1.71%</text>
<text x="15" y="295.5" font-size="12.5" fill="#1c2233" text-anchor="start" textLength="28" lengthAdjust="spacing">振 幅</text>
<text x="16.4" y="314" font-size="12.5" fill="#222" text-anchor="start" font-weight="normal"  textLength="35.45" lengthAdjust="spacingAndGlyphs">2.27%</text>
<rect x="0" y="18" width="11" height="214" fill="#e6e8ee"/>
<rect x="0" y="69" width="11" height="46" fill="#ff6600"/>
<line x1="0" x2="11" y1="167.5" y2="167.5" stroke="#d0d4dc"/>
<clipPath id="sb"><rect x="0" y="18" width="11" height="220"/></clipPath>
<g clip-path="url(#sb)">
<text x="1.5" y="35" font-size="12" fill="#111" text-anchor="middle">分</text>
<text x="1.5" y="49" font-size="12" fill="#111" text-anchor="middle">时</text>
<text x="1.5" y="63.5" font-size="12" fill="#111" text-anchor="middle">图</text>
<text x="-2.6" y="84" font-size="11" font-weight="bold" fill="#fff" style="font-family:'Liberation Serif',serif">K</text>
<text x="1.5" y="99.5" font-size="12" fill="#fff" text-anchor="middle">线</text>
<text x="1.5" y="113.5" font-size="12" fill="#fff" text-anchor="middle">图</text>
<text x="1.5" y="133" font-size="12" fill="#111" text-anchor="middle">闪</text>
<text x="1.5" y="147" font-size="12" fill="#111" text-anchor="middle">电</text>
<text x="1.5" y="162" font-size="12" fill="#111" text-anchor="middle">图</text>
<text x="1.5" y="185.5" font-size="12" fill="#111" text-anchor="middle">合</text>
<text x="1.5" y="201" font-size="12" fill="#111" text-anchor="middle">约</text>
<text x="1.5" y="214.5" font-size="12" fill="#111" text-anchor="middle">资</text>
<text x="1.5" y="228" font-size="12" fill="#111" text-anchor="middle">料</text>
</g>
<rect x="12.5" y="919.5" width="69" height="19" fill="#fff" stroke="#d0d6de"/>
<text x="26.5" y="933.5" font-size="12.5" fill="#ff7f00" text-anchor="start" font-weight="bold">日线</text>
<path d="M56.5 934l4.4-7.8 4.4 7.8z" fill="#ff7f00"/>
<line x1="12" x2="875" y1="939.5" y2="939.5" stroke="#cdd5de"/>
<line x1="0" x2="875" y1="954.5" y2="954.5" stroke="#dde3ea"/>
<line x1="0" x2="875" y1="955.5" y2="955.5" stroke="#cdd5de"/>
<rect x="12" y="939" width="39" height="15" fill="#ff6600"/>
<path d="M51.5 940V954M91.5 940V954M149.5 940V954M177.5 940V954M217.5 940V954M257.5 940V954M291.5 940V954M331.5 940V954M365.5 940V954M399.5 940V954M439.5 940V954M473.5 940V954M501.5 940V954M535.5 940V954M575.5 940V954" stroke="#cdd5de" fill="none"/>
<text x="20" y="952" font-size="11.5" fill="#fff" text-anchor="start" textLength="23.5" lengthAdjust="spacing">指标</text>
<text x="60" y="952" font-size="11.5" fill="#111" text-anchor="start" textLength="23.5" lengthAdjust="spacing">模板</text>
<text x="118.5" y="952" font-size="11.5" fill="#ff7f00" text-anchor="start" textLength="23.5" lengthAdjust="spacing">指标</text>
<text x="543.5" y="952" font-size="11.5" fill="#111" text-anchor="start" textLength="23.5" lengthAdjust="spacing">设置</text>
<text x="100.3" y="951.2" font-size="12.5" fill="#ff7f00" text-anchor="start" font-weight="normal" style="font-family:'Liberation Serif',serif" lengthAdjust="spacingAndGlyphs" textLength="17.4">VIP</text>
<text x="157.8" y="951.2" font-size="12.5" fill="#1a1a1a" text-anchor="start" font-weight="normal" style="font-family:'Liberation Serif',serif" lengthAdjust="spacingAndGlyphs" textLength="11.4">MA</text>
<text x="185.8" y="951.2" font-size="12.5" fill="#1a1a1a" text-anchor="start" font-weight="normal" style="font-family:'Liberation Serif',serif" lengthAdjust="spacingAndGlyphs" textLength="23.4">MACD</text>
<text x="225.8" y="951.2" font-size="12.5" fill="#1a1a1a" text-anchor="start" font-weight="normal" style="font-family:'Liberation Serif',serif" lengthAdjust="spacingAndGlyphs" textLength="23.4">BOLL</text>
<text x="265.8" y="951.2" font-size="12.5" fill="#1a1a1a" text-anchor="start" font-weight="normal" style="font-family:'Liberation Serif',serif" lengthAdjust="spacingAndGlyphs" textLength="17.4">VOL</text>
<text x="299.8" y="951.2" font-size="12.5" fill="#1a1a1a" text-anchor="start" font-weight="normal" style="font-family:'Liberation Serif',serif" lengthAdjust="spacingAndGlyphs" textLength="23.4">BIAS</text>
<text x="339.8" y="951.2" font-size="12.5" fill="#1a1a1a" text-anchor="start" font-weight="normal" style="font-family:'Liberation Serif',serif" lengthAdjust="spacingAndGlyphs" textLength="17.4">CCI</text>
<text x="373.8" y="951.2" font-size="12.5" fill="#1a1a1a" text-anchor="start" font-weight="normal" style="font-family:'Liberation Serif',serif" lengthAdjust="spacingAndGlyphs" textLength="17.4">KDJ</text>
<text x="410.8" y="951.2" font-size="12.5" fill="#1a1a1a" text-anchor="start" font-weight="normal" style="font-family:'Liberation Serif',serif" lengthAdjust="spacingAndGlyphs" textLength="17.4">LW&amp;</text>
<text x="447.8" y="951.2" font-size="12.5" fill="#1a1a1a" text-anchor="start" font-weight="normal" style="font-family:'Liberation Serif',serif" lengthAdjust="spacingAndGlyphs" textLength="17.4">RSI</text>
<text x="481.8" y="951.2" font-size="12.5" fill="#1a1a1a" text-anchor="start" font-weight="normal" style="font-family:'Liberation Serif',serif" lengthAdjust="spacingAndGlyphs" textLength="11.4">CR</text>
<text x="509.8" y="951.2" font-size="12.5" fill="#1a1a1a" text-anchor="start" font-weight="normal" style="font-family:'Liberation Serif',serif" lengthAdjust="spacingAndGlyphs" textLength="17.4">PSY</text>
<line x1="0" x2="875" y1="964.5" y2="964.5" stroke="#d2dae3"/>
<line x1="38.5" x2="38.5" y1="965" y2="974" stroke="#cdd5de"/>
<text x="3.2" y="978" font-size="11.5" fill="#222" text-anchor="start" textLength="23.5" lengthAdjust="spacing">资讯</text>
<rect x="734" y="956" width="141" height="8" fill="#b9b8bc"/>
<path d="M812.5 963l11.5-6 11.5 6z" fill="#6e6e6e"/>
<line x1="82" x2="853" y1="936.5" y2="936.5" stroke="#ecf0f5"/>
<text x="745" y="948.5" font-size="30.5" fill="#dde8f7" filter="url(#ws)" textLength="99.08" lengthAdjust="spacing">FX678</text>
<rect x="0" y="0" width="875" height="17" fill="#e9eaf2"/>
<rect x="0" y="17" width="875" height="1" fill="#d2d3dc"/>
<path d="M62.5 0V17M133.5 0V17M200.5 0V17M247.5 0V17M294.5 0V17M341.5 0V17M388.5 0V17M416.5 0V17M444.5 0V17M472.5 0V17M500.5 0V17M528.5 0V17M556.5 0V17M584.5 0V17M612.5 0V17M640.5 0V17M668.5 0V17M739.5 0V17M767.5 0V17M814.5 0V17M861.5 0V17" stroke="#f4f5f9" fill="none"/>
<path d="M63.5 0V17M134.5 0V17M201.5 0V17M248.5 0V17M295.5 0V17M342.5 0V17M389.5 0V17M417.5 0V17M445.5 0V17M473.5 0V17M501.5 0V17M529.5 0V17M557.5 0V17M585.5 0V17M613.5 0V17M641.5 0V17M669.5 0V17M740.5 0V17M768.5 0V17M815.5 0V17M862.5 0V17" stroke="#d0d1dc" fill="none"/>
<text x="22.5" y="8.7" font-size="12.5" fill="#3b4252" text-anchor="start" textLength="24.5" lengthAdjust="spacing">返回</text>
<text x="94" y="8.7" font-size="12.5" fill="#3b4252" text-anchor="start" textLength="24.5" lengthAdjust="spacing">首页</text>
<text x="362.2" y="8.7" font-size="12.5" fill="#3b4252" text-anchor="start">日</text>
<text x="564.5" y="8.7" font-size="12.5" fill="#3b4252" text-anchor="start">日</text>
<text x="591.7" y="8.7" font-size="12.5" fill="#3b4252" text-anchor="start">周</text>
<text x="619.5" y="8.7" font-size="12.5" fill="#3b4252" text-anchor="start">月</text>
<text x="648" y="8.7" font-size="12.5" fill="#3b4252" text-anchor="start">年</text>
<text x="700" y="8.7" font-size="12.5" fill="#3b4252" text-anchor="start" textLength="24.5" lengthAdjust="spacing">更多</text>
<text x="305.1" y="9.8" font-size="15" fill="#3b4252" textLength="24.90" lengthAdjust="spacing">tick</text>
<text x="355" y="9" font-size="13" fill="#3b4252" text-anchor="start">5</text>
<text x="399" y="9" font-size="13" fill="#3b4252" text-anchor="start">5</text>
<text x="423.5" y="9" font-size="13" fill="#3b4252" text-anchor="start" textLength="14.47" lengthAdjust="spacingAndGlyphs">15</text>
<text x="451.5" y="9" font-size="13" fill="#3b4252" text-anchor="start" textLength="14.47" lengthAdjust="spacingAndGlyphs">30</text>
<text x="479.5" y="9" font-size="13" fill="#3b4252" text-anchor="start" textLength="14.47" lengthAdjust="spacingAndGlyphs">60</text>
<text x="506.5" y="9" font-size="13" fill="#3b4252" text-anchor="start" textLength="16.62" lengthAdjust="spacingAndGlyphs">2H</text>
<text x="534" y="9" font-size="13" fill="#3b4252" text-anchor="start" textLength="16.62" lengthAdjust="spacingAndGlyphs">4H</text>
<path d="M6.2 3.4L11.3 -1.5V0.8C16.3 0.8 20.3 3 20.3 6.6C20.3 8 19.9 9 19.3 9.9C18.6 7 16.5 5.4 11.3 5.4V8z" fill="#3b4252"/>
<path d="M77 4.6L83.5 -1.6L90 4.6L89.2 5.4L88.2 4.5V10.6H84.8V6.9H82.3V10.6H78.9V4.5L77.8 5.4z" fill="#3b4252"/>
<path d="M172.4 9.4A6.8 6.8 0 1 1 174.7 3.2V5" stroke="#3b4252" stroke-width="1.6" fill="none"/><path d="M171.7 4.1h5.2l-2.6 3.3z" fill="#3b4252"/>
<path d="M215 11.5V8.8l2.9-1.8v4.5zM219.9 11.5V6.2l3.1-1.8v7.1zM225 11.5V5.6l3.1 1.6v4.3zM230.2 11.5V2.2l2.8-2.2v11.5z" fill="#3b4252"/><path d="M215 6.6l7.8-7.2 3.4 3.6 5-5" stroke="#3b4252" stroke-width="1.4" fill="none"/>
<path d="M261 1.5h3.7v4.7h-3.7zM266.7 -1h3.1v7.7h-3.1zM272.4 4.1h3.1v3.6h-3.1zM277.5 3.1h3.6v4.6h-3.6z" fill="#3b4252"/><path d="M262.9 -1v8.7M268.3 -1v12.3M274 1v9.3M279.3 -1v11.3" stroke="#3b4252" stroke-width="1.2" fill="none"/>
<path d="M683.5 3.2h13.5v2h-13.5zM683.5 7.6h13.5v2.2h-13.5z" fill="#3b4252"/>
<path d="M751.8 -1.5C749.5 -1.8 749.2 0 749 2.7L748 9C747.7 10.6 747 11 745.6 10.6M746.3 2.9h5.6" stroke="#3b4252" stroke-width="1.7" fill="none"/><path d="M754 4.3l6.3 5.8M760.3 4.3l-6.3 5.8" stroke="#3b4252" stroke-width="1.9" fill="none"/>
<g stroke="#3b4252" stroke-width="1.25" fill="none"><circle cx="791" cy="3.6" r="6.5"/><path d="M795.6 8.7l3.4 3.2M788 3.3h6"/><circle cx="838" cy="3.6" r="6.5"/><path d="M842.6 8.7l3.4 3.2M835 3.7h6.2M838.1 0.7v6.2"/></g>
</svg>
</div></body></html>
